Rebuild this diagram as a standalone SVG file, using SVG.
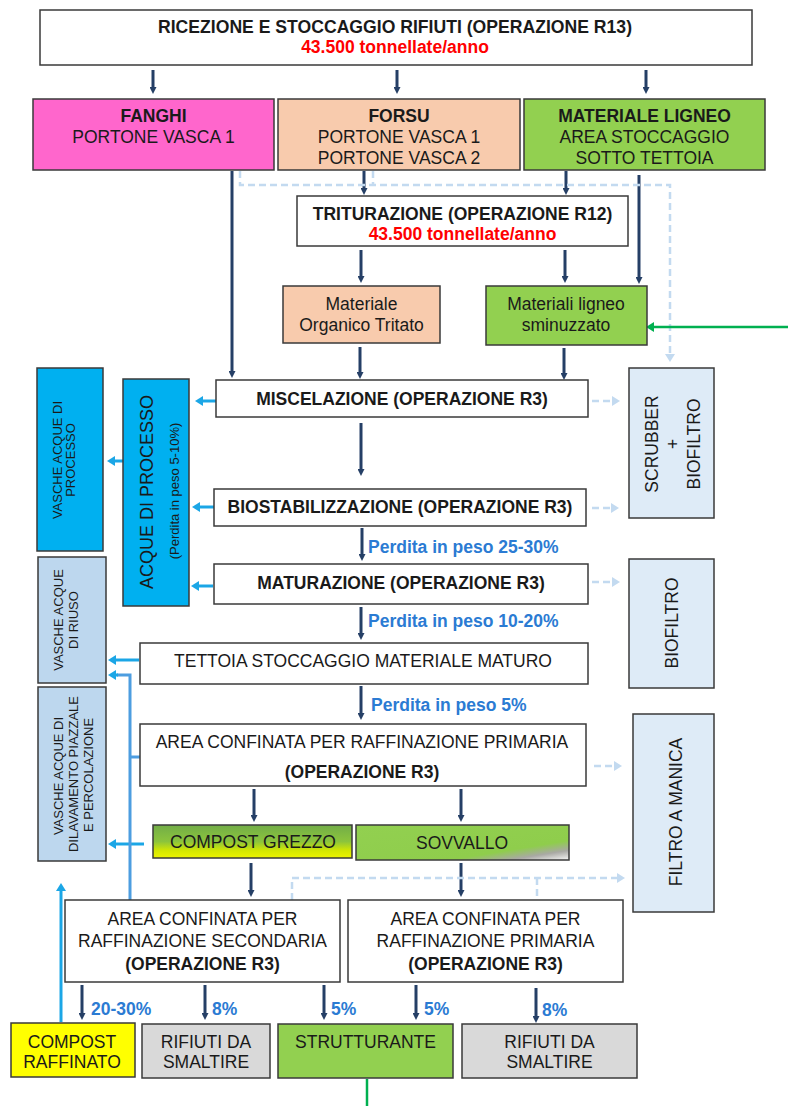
<svg xmlns="http://www.w3.org/2000/svg" width="788" height="1106" viewBox="0 0 788 1106">
<style>
text{font-family:"Liberation Sans",Arial,sans-serif;font-size:17.5px;fill:#1a1a1a}
.b{font-weight:bold}
.m{text-anchor:middle}
.red{fill:#ff0000;font-weight:bold}
.pl{fill:#2b7bd3;font-weight:bold}
.s13{font-size:13px}
.bx{stroke:#3a3a3a;stroke-width:1.5}
.nv{stroke:#253f66;stroke-width:3;fill:none;marker-end:url(#mN)}
.bl{stroke:#1ba6e6;stroke-width:3;fill:none;marker-end:url(#mB)}
.bv{stroke:#4d9de0;stroke-width:3;fill:none}
.ds{stroke:#c3daf0;stroke-width:2.5;stroke-dasharray:7 4;fill:none}
.dsa{marker-end:url(#mD)}
.gr{stroke:#00b050;stroke-width:2.5;fill:none}
</style>
<defs>
<marker id="mN" viewBox="0 0 7 7" refX="0" refY="3.5" markerWidth="7" markerHeight="7" markerUnits="userSpaceOnUse" orient="auto"><path d="M0,0 L7,3.5 L0,7z" fill="#253f66"/></marker>
<marker id="mB" viewBox="0 0 8 10" refX="0" refY="5" markerWidth="8" markerHeight="10" markerUnits="userSpaceOnUse" orient="auto"><path d="M0,0 L8,5 L0,10z" fill="#1ba6e6"/></marker>
<marker id="mD" viewBox="0 0 8 10" refX="0" refY="5" markerWidth="8" markerHeight="10" markerUnits="userSpaceOnUse" orient="auto"><path d="M0,0 L8,5 L0,10z" fill="#c3daf0"/></marker>
<marker id="mG" viewBox="0 0 8 10" refX="0" refY="5" markerWidth="8" markerHeight="10" markerUnits="userSpaceOnUse" orient="auto"><path d="M0,0 L8,5 L0,10z" fill="#00b050"/></marker>
<linearGradient id="gC" x1="0" y1="0" x2="0" y2="1">
<stop offset="0" stop-color="#72ad48"/><stop offset="0.5" stop-color="#8cc43c"/><stop offset="0.78" stop-color="#d5e800"/><stop offset="1" stop-color="#eef400"/>
</linearGradient>
<linearGradient id="gS" x1="0" y1="0" x2="1" y2="1">
<stop offset="0" stop-color="#92d050"/><stop offset="0.72" stop-color="#8fcd4c"/><stop offset="0.86" stop-color="#a9a9a4"/><stop offset="1" stop-color="#f6f6f6"/>
</linearGradient>
</defs>

<g id="connectors">
<path class="nv" d="M153,70 V87"/>
<path class="nv" d="M397,70 V87"/>
<path class="nv" d="M646,70 V87"/>
<path class="nv" d="M232,171 V371"/>
<path class="nv" d="M364,171 V188"/>
<path class="nv" d="M566,171 V188"/>
<path class="nv" d="M639,175 V277"/>
<path class="nv" d="M361,250 V276"/>
<path class="nv" d="M565,250 V276"/>
<path class="nv" d="M360,347 V372"/>
<path class="nv" d="M564,348 V373"/>
<path class="nv" d="M361,423 V469"/>
<path class="nv" d="M362,528 V554"/>
<path class="nv" d="M361,607 V633"/>
<path class="nv" d="M361,686 V713"/>
<path class="nv" d="M254,789 V815"/>
<path class="nv" d="M461,789 V815"/>
<path class="nv" d="M251,863 V890"/>
<path class="nv" d="M461,863 V890"/>
<path class="nv" d="M82,985 V1013"/>
<path class="nv" d="M205,985 V1013"/>
<path class="nv" d="M324,985 V1013"/>
<path class="nv" d="M416,985 V1013"/>
<path class="nv" d="M536,988 V1016"/>

<path class="bl" d="M216,401 H203"/>
<path class="bl" d="M214,507 H200"/>
<path class="bl" d="M213,586 H199"/>
<path class="bl" d="M123,461 H115"/>
<path class="bl" d="M139,660 H116"/>
<path class="bl" d="M144,844 H116"/>
<path class="bv" d="M130,900 V675 H117"/>
<path class="bl" d="M118,675 H116"/>
<path class="bv" d="M130,757 H140"/>
<path class="bl" d="M61,1022 V891"/>

<path class="ds dsa" d="M240,171 V185 H670 V354"/>
<path class="ds" d="M373,171 V185"/>
<path class="ds dsa" d="M592,401 H612"/>
<path class="ds dsa" d="M592,508 H611"/>
<path class="ds dsa" d="M592,582 H612"/>
<path class="ds dsa" d="M594,766 H614"/>
<path class="ds dsa" d="M292,900 V878 H617"/>
<path class="ds" d="M537,878 V900"/>

<path class="gr" d="M788,327 H654" marker-end="url(#mG)"/>
<path class="gr" d="M367,1079 V1106"/>

<text class="pl" x="368" y="553">Perdita in peso 25-30%</text>
<text class="pl" x="368" y="627">Perdita in peso 10-20%</text>
<text class="pl" x="371" y="711">Perdita in peso 5%</text>
<text class="pl" x="91" y="1015">20-30%</text>
<text class="pl" x="212" y="1015">8%</text>
<text class="pl" x="331" y="1015">5%</text>
<text class="pl" x="424" y="1015">5%</text>
<text class="pl" x="542" y="1016">8%</text>
</g>

<g id="ricezione">
<rect class="bx" x="40" y="10" width="712" height="55" fill="#ffffff"/>
<text class="m b" x="395" y="33" textLength="474" lengthAdjust="spacingAndGlyphs">RICEZIONE E STOCCAGGIO RIFIUTI (OPERAZIONE R13)</text>
<text class="m red" x="395" y="53">43.500 tonnellate/anno</text>
</g>

<g id="fanghi">
<rect class="bx" x="33" y="99" width="241" height="71" fill="#ff66cc"/>
<text class="m b" x="153.5" y="122">FANGHI</text>
<text class="m" x="153.5" y="143">PORTONE VASCA 1</text>
</g>

<g id="forsu">
<rect class="bx" x="278" y="99" width="242" height="71" fill="#f8cbad"/>
<text class="m b" x="399" y="122">FORSU</text>
<text class="m" x="399" y="143">PORTONE VASCA 1</text>
<text class="m" x="399" y="164">PORTONE VASCA 2</text>
</g>

<g id="materiale-ligneo">
<rect class="bx" x="524" y="99" width="241" height="71" fill="#92d050"/>
<text class="m b" x="644.5" y="122">MATERIALE LIGNEO</text>
<text class="m" x="644.5" y="143">AREA STOCCAGGIO</text>
<text class="m" x="644.5" y="164">SOTTO TETTOIA</text>
</g>

<g id="triturazione">
<rect class="bx" x="297" y="196" width="331" height="50" fill="#ffffff"/>
<text class="m b" x="462.5" y="220">TRITURAZIONE (OPERAZIONE R12)</text>
<text class="m red" x="462.5" y="240">43.500 tonnellate/anno</text>
</g>

<g id="organico-tritato">
<rect class="bx" x="283" y="286" width="157" height="57" fill="#f8cbad"/>
<text class="m" x="361.5" y="310">Materiale</text>
<text class="m" x="361.5" y="331">Organico Tritato</text>
</g>

<g id="ligneo-sminuzzato">
<rect class="bx" x="486" y="286" width="161" height="59" fill="#92d050"/>
<text class="m" x="566" y="310">Materiali ligneo</text>
<text class="m" x="566" y="331">sminuzzato</text>
</g>

<g id="miscelazione">
<rect class="bx" x="216" y="380" width="372" height="37" fill="#ffffff"/>
<text class="m b" x="402" y="405">MISCELAZIONE (OPERAZIONE R3)</text>
</g>

<g id="biostabilizzazione">
<rect class="bx" x="214" y="489" width="372" height="37" fill="#ffffff"/>
<text class="m b" x="400" y="513">BIOSTABILIZZAZIONE (OPERAZIONE R3)</text>
</g>

<g id="maturazione">
<rect class="bx" x="214" y="564" width="374" height="40" fill="#ffffff"/>
<text class="m b" x="401" y="589">MATURAZIONE (OPERAZIONE R3)</text>
</g>

<g id="tettoia">
<rect class="bx" x="140" y="643" width="448" height="41" fill="#ffffff"/>
<text class="m" x="363" y="667">TETTOIA STOCCAGGIO MATERIALE MATURO</text>
</g>

<g id="raffinazione-primaria-1">
<rect class="bx" x="140" y="724" width="446" height="62" fill="#ffffff"/>
<text class="m" x="362" y="748">AREA CONFINATA PER RAFFINAZIONE PRIMARIA</text>
<text class="m b" x="362" y="778">(OPERAZIONE R3)</text>
</g>

<g id="compost-grezzo">
<rect class="bx" x="153" y="825" width="199" height="33" fill="url(#gC)"/>
<text class="m" x="253" y="848">COMPOST GREZZO</text>
</g>

<g id="sovvallo">
<rect class="bx" x="356" y="825" width="213" height="35" fill="url(#gS)"/>
<text class="m" x="462" y="849">SOVVALLO</text>
</g>

<g id="raffinazione-secondaria">
<rect class="bx" x="65" y="900" width="275" height="82" fill="#ffffff"/>
<text class="m" x="202.5" y="925">AREA CONFINATA PER</text>
<text class="m" x="202.5" y="947">RAFFINAZIONE SECONDARIA</text>
<text class="m b" x="202.5" y="970">(OPERAZIONE R3)</text>
</g>

<g id="raffinazione-primaria-2">
<rect class="bx" x="348" y="900" width="275" height="82" fill="#ffffff"/>
<text class="m" x="485.5" y="925">AREA CONFINATA PER</text>
<text class="m" x="485.5" y="947">RAFFINAZIONE PRIMARIA</text>
<text class="m b" x="485.5" y="970">(OPERAZIONE R3)</text>
</g>

<g id="compost-raffinato">
<rect class="bx" x="11" y="1023" width="124" height="54" fill="#ffff00"/>
<text class="m" x="72" y="1048">COMPOST</text>
<text class="m" x="72" y="1068">RAFFINATO</text>
</g>

<g id="rifiuti-1">
<rect class="bx" x="142" y="1024" width="128" height="54" fill="#d9d9d9"/>
<text class="m" x="206" y="1048">RIFIUTI DA</text>
<text class="m" x="206" y="1068">SMALTIRE</text>
</g>

<g id="strutturante">
<rect class="bx" x="278" y="1024" width="175" height="54" fill="#92d050"/>
<text class="m" x="365.5" y="1048">STRUTTURANTE</text>
</g>

<g id="rifiuti-2">
<rect class="bx" x="462" y="1024" width="175" height="54" fill="#d9d9d9"/>
<text class="m" x="549.5" y="1048">RIFIUTI DA</text>
<text class="m" x="549.5" y="1068">SMALTIRE</text>
</g>

<g id="vasche-processo">
<rect class="bx" x="37" y="368" width="66" height="183" fill="#00b0f0"/>
<text class="m s13" transform="translate(62,460) rotate(-90)">VASCHE ACQUE DI</text>
<text class="m s13" transform="translate(75,460) rotate(-90)">PROCESSO</text>
</g>

<g id="acque-processo">
<rect class="bx" x="123" y="379" width="66" height="227" fill="#00b0f0"/>
<text class="m" style="font-size:18px" transform="translate(153,492) rotate(-90)">ACQUE DI PROCESSO</text>
<text class="m s13" transform="translate(179,491) rotate(-90)">(Perdita in peso 5-10%)</text>
</g>

<g id="vasche-riuso">
<rect class="bx" x="38" y="557" width="68" height="126" fill="#bdd7ee"/>
<text class="m s13" transform="translate(63,620) rotate(-90)">VASCHE ACQUE</text>
<text class="m s13" transform="translate(78,620) rotate(-90)">DI RIUSO</text>
</g>

<g id="vasche-dilavamento">
<rect class="bx" x="38" y="687" width="68" height="174" fill="#bdd7ee"/>
<text class="m s13" transform="translate(63,776) rotate(-90)">VASCHE ACQUE DI</text>
<text class="m s13" transform="translate(78,774) rotate(-90)">DILAVAMENTO PIAZZALE</text>
<text class="m s13" transform="translate(93,775) rotate(-90)">E PERCOLAZIONE</text>
</g>

<g id="scrubber-biofiltro">
<rect class="bx" x="629" y="368" width="85" height="150" fill="#deebf7"/>
<text class="m" transform="translate(658,444) rotate(-90)">SCRUBBER</text>
<text class="m" transform="translate(679,444) rotate(-90)">+</text>
<text class="m" transform="translate(700,444) rotate(-90)">BIOFILTRO</text>
</g>

<g id="biofiltro">
<rect class="bx" x="629" y="559" width="85" height="129" fill="#deebf7"/>
<text class="m" transform="translate(678,623) rotate(-90)">BIOFILTRO</text>
</g>

<g id="filtro-manica">
<rect class="bx" x="633" y="714" width="81" height="198" fill="#deebf7"/>
<text class="m" transform="translate(682,812) rotate(-90)">FILTRO A MANICA</text>
</g>
</svg>
